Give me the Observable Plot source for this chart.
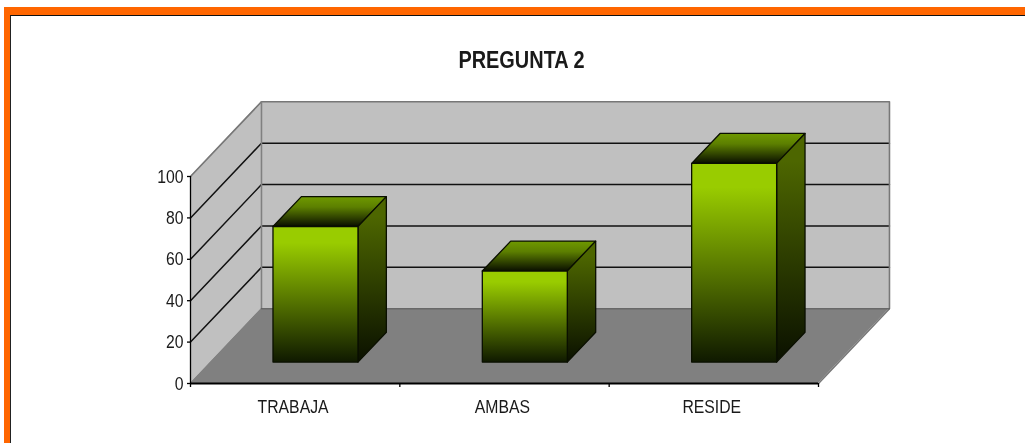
<!DOCTYPE html>
<html>
<head>
<meta charset="utf-8">
<script src="https://cdn.jsdelivr.net/npm/d3@7"></script>
<script src="https://cdn.jsdelivr.net/npm/@observablehq/plot@0.6"></script>
<style>
  html, body { margin: 0; padding: 0; background: #fff; overflow: hidden; }
  #frame { position: absolute; left: 4px; top: 7px; right: 0; bottom: 0;
           border-top: 8px solid #ff6600; border-left: 6px solid #ff6600; }
  #inner { position: absolute; left: 0; top: 0; right: 0; bottom: 0;
           border-top: 1.5px solid #111; border-left: 1.5px solid #222; }
  #chart { position: absolute; left: 0; top: 0; }
  svg text { fill: #1a1a1a; }
  svg { filter: blur(0.3px); }
</style>
</head>
<body>
<div id="frame"><div id="inner"></div></div>
<div id="chart"></div>
<script>
const chartTitle = "PREGUNTA 2";
const categories = ["TRABAJA", "AMBAS", "RESIDE"];
const values = [65.5, 44, 96];
const yTicks = [0, 20, 40, 60, 80, 100];
const gridValues = [20, 40, 60, 80];

// oblique projection: one unit of depth, expressed in data units
const depthX = 0.339, depthY = 36.1;
const barFront = 0.28, barBack = 0.68, barStart = 0.3015, barWidth = 0.406;
const n = categories.length, yMax = 100;

const px = (c, d) => c + d * depthX;
const py = (v, d) => v + d * depthY;

const leftWall = [0, 1].map(d => ({x: px(0, d), y1: py(0, d), y2: py(yMax, d)}));
const backWall = [0, n].map(c => ({x: px(c, 1), y1: py(0, 1), y2: py(yMax, 1)}));
const floor = [0, 1].map(d => ({y: py(0, d), x1: px(0, d), x2: px(n, d)}));
const grid = gridValues.flatMap(v => [
  {v, x: px(0, 0), y: py(v, 0)},
  {v, x: px(0, 1), y: py(v, 1)},
  {v, x: px(n, 1), y: py(v, 1)}
]);
const wallOutline = [
  {x: px(0, 0), y: py(yMax, 0)}, {x: px(0, 1), y: py(yMax, 1)}, {x: px(n, 1), y: py(yMax, 1)},
  {x: px(n, 1), y: py(0, 1)}, {x: px(n, 0), y: py(0, 0)}
];
const backEdge = [{x: px(0, 0), y: py(0, 0)}, {x: px(0, 1), y: py(0, 1)}, {x: px(0, 1), y: py(yMax, 1)}];
const floorBack = [{x: px(0, 1), y: py(0, 1)}, {x: px(n, 1), y: py(0, 1)}];

const bars = categories.map((name, i) => ({name, value: values[i], a: i + barStart, b: i + barStart + barWidth}));
const fronts = bars.map(b => ({name: b.name, x1: px(b.a, barFront), x2: px(b.b, barFront), y1: py(0, barFront), y2: py(b.value, barFront)}));
const sides = bars.flatMap(b => [barFront, barBack].map(d => ({name: b.name, x: px(b.b, d), y1: py(0, d), y2: py(b.value, d)})));
const tops = bars.flatMap(b => [barFront, barBack].map(d => ({name: b.name, y: py(b.value, d), x1: px(b.a, d), x2: px(b.b, d)})));

const barStroke = {stroke: "#0a0f00", strokeWidth: 1.3, strokeLinejoin: "round"};

const chart = Plot.plot({
  width: 1025,
  height: 443,
  marginLeft: 190,
  marginRight: 207,
  marginTop: 176,
  marginBottom: 60,
  style: {background: "transparent", fontFamily: "'Liberation Sans',Arial,sans-serif", fontSize: "19px"},
  x: {domain: [0, n]},
  y: {domain: [0, yMax]},
  marks: [
    Plot.areaY(backWall, {x: "x", y1: "y1", y2: "y2", fill: "#c0c0c0"}),
    Plot.areaY(leftWall, {x: "x", y1: "y1", y2: "y2", fill: "#c0c0c0"}),
    Plot.areaX(floor, {y: "y", x1: "x1", x2: "x2", fill: "#808080"}),
    Plot.line(grid, {x: "x", y: "y", z: "v", stroke: "#111", strokeWidth: 1.5}),
    Plot.line(wallOutline, {x: "x", y: "y", stroke: "#777", strokeWidth: 1.6}),
    Plot.line(backEdge, {x: "x", y: "y", stroke: "#808080", strokeWidth: 1.6}),
    Plot.line(floorBack, {x: "x", y: "y", stroke: "#555", strokeWidth: 1}),
    Plot.areaX(tops, {y: "y", x1: "x1", x2: "x2", z: "name", fill: "url(#topGrad)", ...barStroke}),
    Plot.areaY(sides, {x: "x", y1: "y1", y2: "y2", z: "name", fill: "url(#sideGrad)", ...barStroke}),
    Plot.rect(fronts, {x1: "x1", x2: "x2", y1: "y1", y2: "y2", fill: "url(#frontGrad)", ...barStroke}),
    Plot.ruleY([0], {stroke: "#000", strokeWidth: 2.2}),
    Plot.ruleX([0], {stroke: "#000", strokeWidth: 1.3}),
    Plot.axisY({ticks: yTicks, tickSize: 3, tickPadding: 4, label: null, stroke: "#000", strokeWidth: 1.3}),
    Plot.axisX({ticks: d3.range(n + 1), tickSize: 4, tickFormat: () => "", label: null, stroke: "#000", strokeWidth: 1.3}),
    Plot.axisX({ticks: categories.map((_, i) => i + 0.49), tickSize: 0, tickPadding: 16, label: null,
      tickFormat: t => categories[Math.floor(t)]}),
    Plot.text([chartTitle], {frameAnchor: "top", dx: 17, dy: -126, fontWeight: "bold", fontSize: 24})
  ]
});

d3.select(chart).insert("defs", ":first-child").html(`
  <linearGradient id="frontGrad" x1="0" y1="0" x2="0" y2="1">
    <stop offset="0" stop-color="#99cc00"/><stop offset="0.12" stop-color="#99cc00"/>
    <stop offset="1" stop-color="#0f1900"/>
  </linearGradient>
  <linearGradient id="sideGrad" x1="0" y1="0" x2="0" y2="1">
    <stop offset="0" stop-color="#4d6600"/><stop offset="0.12" stop-color="#4d6600"/>
    <stop offset="1" stop-color="#0a1000"/>
  </linearGradient>
  <linearGradient id="topGrad" x1="0" y1="0" x2="0" y2="1">
    <stop offset="0" stop-color="#6f9900"/><stop offset="0.35" stop-color="#5c7f00"/>
    <stop offset="1" stop-color="#0a0f00"/>
  </linearGradient>`);
document.getElementById("chart").append(chart);

// The reference uses a condensed face: squeeze each label horizontally
chart.querySelectorAll("text").forEach(t => {
  const len = t.getComputedTextLength();
  if (len > 0) {
    t.setAttribute("textLength", (len * 0.83).toFixed(1));
    t.setAttribute("lengthAdjust", "spacingAndGlyphs");
  }
});
</script>
</body>
</html>
